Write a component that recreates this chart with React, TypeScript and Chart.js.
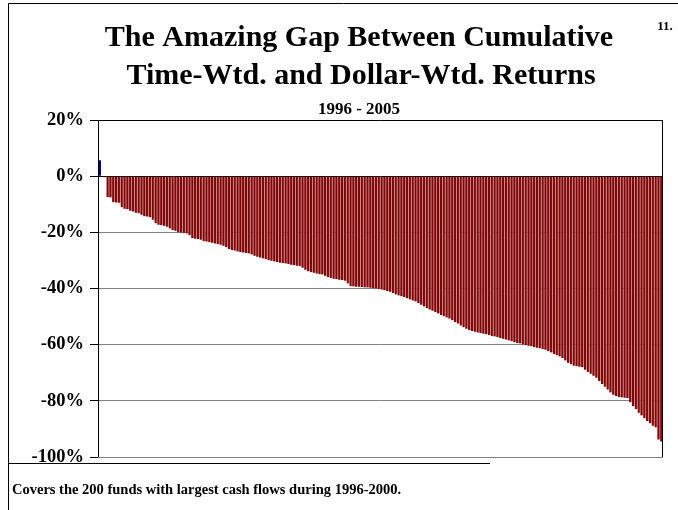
import React, { useEffect, useRef } from "react";
import { Chart, registerables } from "chart.js";

Chart.register(...registerables);

const titleLines = ["The Amazing Gap Between Cumulative", "Time-Wtd. and Dollar-Wtd. Returns"];
const subtitle = "1996 - 2005";
const pageNumber = "11.";
const footnote = "Covers the 200 funds with largest cash flows during 1996-2000.";

const yTicks = [20, 0, -20, -40, -60, -80, -100];

// Gap (dollar-weighted minus time-weighted cumulative return), % — 200 funds, sorted
const gapValues = [
  5.7, -0.2, -0.4, -7.5, -7.6, -9.3, -9.4, -9.5, -11.1, -11.6,
  -11.8, -12.3, -12.6, -13.0, -13.2, -13.7, -14.3, -14.4, -14.6, -15.5,
  -16.8, -17.3, -17.5, -17.7, -18.0, -18.6, -19.2, -19.4, -20.0, -20.1,
  -20.2, -20.4, -21.0, -22.1, -22.3, -22.4, -22.6, -23.2, -23.3, -23.5,
  -23.7, -24.0, -24.2, -24.4, -24.8, -25.3, -25.9, -26.3, -26.5, -26.8,
  -27.0, -27.2, -27.4, -27.5, -27.9, -28.3, -28.7, -29.0, -29.3, -29.6,
  -29.9, -30.1, -30.4, -30.6, -30.8, -31.0, -31.1, -31.3, -31.5, -31.7,
  -31.9, -32.0, -32.6, -33.3, -33.9, -34.2, -34.4, -34.7, -34.9, -35.0,
  -35.5, -36.0, -36.3, -36.5, -36.7, -36.9, -37.0, -37.2, -38.2, -39.2,
  -39.3, -39.4, -39.4, -39.5, -39.6, -39.6, -39.7, -39.8, -40.0, -40.2,
  -40.4, -40.6, -40.9, -41.2, -41.6, -42.1, -42.5, -42.8, -43.1, -43.5,
  -43.9, -44.3, -44.6, -45.2, -45.8, -46.4, -47.0, -47.5, -47.9, -48.4,
  -48.9, -49.4, -49.9, -50.3, -50.7, -51.3, -51.9, -52.5, -53.2, -53.8,
  -54.3, -54.8, -55.1, -55.4, -55.7, -55.9, -56.1, -56.3, -56.6, -56.9,
  -57.1, -57.3, -57.6, -57.9, -58.2, -58.5, -58.8, -59.1, -59.4, -59.6,
  -59.9, -60.1, -60.4, -60.6, -60.9, -61.1, -61.3, -61.5, -61.8, -62.3,
  -62.8, -63.3, -63.8, -64.2, -64.8, -65.6, -66.4, -67.0, -67.5, -67.7,
  -67.9, -68.0, -68.9, -69.7, -70.4, -71.1, -71.8, -72.9, -74.0, -75.0,
  -76.0, -77.0, -77.8, -78.3, -78.6, -78.8, -78.9, -79.0, -80.5, -81.9,
  -83.0, -84.2, -85.2, -86.2, -87.2, -88.0, -88.9, -89.5, -93.8, -94.5,
];

const fundLabels = gapValues.map((_, i) => `Fund ${i + 1}`);

const SERIF = '"Liberation Serif", "Times New Roman", serif';

const decorPlugin = {
  id: "decor",
  afterDraw(chart: any) {
    const { ctx, chartArea } = chart;
    ctx.save();
    // frame
    ctx.strokeStyle = "#000";
    ctx.lineWidth = 1;
    ctx.beginPath();
    ctx.moveTo(8.5, 510);
    ctx.lineTo(8.5, 3.5);
    ctx.lineTo(678, 3.5);
    ctx.stroke();
    ctx.beginPath();
    ctx.moveTo(8, 463.5);
    ctx.lineTo(490, 463.5);
    ctx.stroke();
    // plot border
    ctx.beginPath();
    ctx.moveTo(chartArea.left + 0.5, chartArea.bottom);
    ctx.lineTo(chartArea.left + 0.5, chartArea.top + 0.5);
    ctx.lineTo(chartArea.right - 0.5, chartArea.top + 0.5);
    ctx.lineTo(chartArea.right - 0.5, chartArea.bottom);
    ctx.stroke();
    // texts
    ctx.fillStyle = "#000";
    ctx.textAlign = "center";
    ctx.textBaseline = "alphabetic";
    ctx.font = `bold 30px ${SERIF}`;
    ctx.fillText(titleLines[0], 359, 46);
    ctx.fillText(titleLines[1], 361, 84);
    ctx.font = `bold 17px ${SERIF}`;
    ctx.fillText(subtitle, 359, 114);
    ctx.font = `bold 13px ${SERIF}`;
    ctx.fillText(pageNumber, 665, 30);
    ctx.textAlign = "left";
    ctx.font = `bold 14.5px ${SERIF}`;
    ctx.fillText(footnote, 12, 494);
    ctx.restore();
  },
};

export default function App() {
  const ref = useRef<HTMLCanvasElement>(null);
  useEffect(() => {
    if (!ref.current) return;
    const chart = new Chart(ref.current, {
      type: "bar",
      data: {
        labels: fundLabels,
        datasets: [
          {
            data: gapValues,
            backgroundColor: gapValues.map((v) => (v > 0 ? "#000099" : "#8a0000")),
            borderColor: gapValues.map((v) => (v > 0 ? "#000099" : "#bdbdbd")),
            borderWidth: { left: 0, right: 1, top: 0, bottom: 0 },
            borderSkipped: false,
            barPercentage: 1,
            categoryPercentage: 1,
          },
        ],
      },
      options: {
        responsive: false,
        animation: false,
        layout: { padding: { top: 120, right: 15, bottom: 53, left: 0 } },
        plugins: {
          legend: { display: false },
          tooltip: { enabled: false },
          title: { display: false },
        },
        scales: {
          x: { display: false },
          y: {
            min: -100,
            max: 20,
            afterFit: (s: any) => {
              s.width = 98;
            },
            afterBuildTicks: (s: any) => {
              s.ticks = yTicks.map((v) => ({ value: v }));
            },
            border: { display: false },
            grid: {
              color: (c: any) => (c.tick && c.tick.value === 0 ? "#000" : "#808080"),
              tickColor: "#000",
              tickLength: 8,
              lineWidth: 1,
            },
            ticks: {
              color: "#000",
              padding: 6,
              font: { family: SERIF, size: 18.5, weight: "bold" },
              callback: (v: any) => `${v}%`,
            },
          },
        },
      },
      plugins: [decorPlugin],
    });
    return () => chart.destroy();
  }, []);
  return (
    <div style={{ position: "fixed", left: 0, top: 0, width: 678, height: 510, background: "#fff" }}>
      <canvas ref={ref} width={678} height={510} style={{ display: "block" }} />
    </div>
  );
}
